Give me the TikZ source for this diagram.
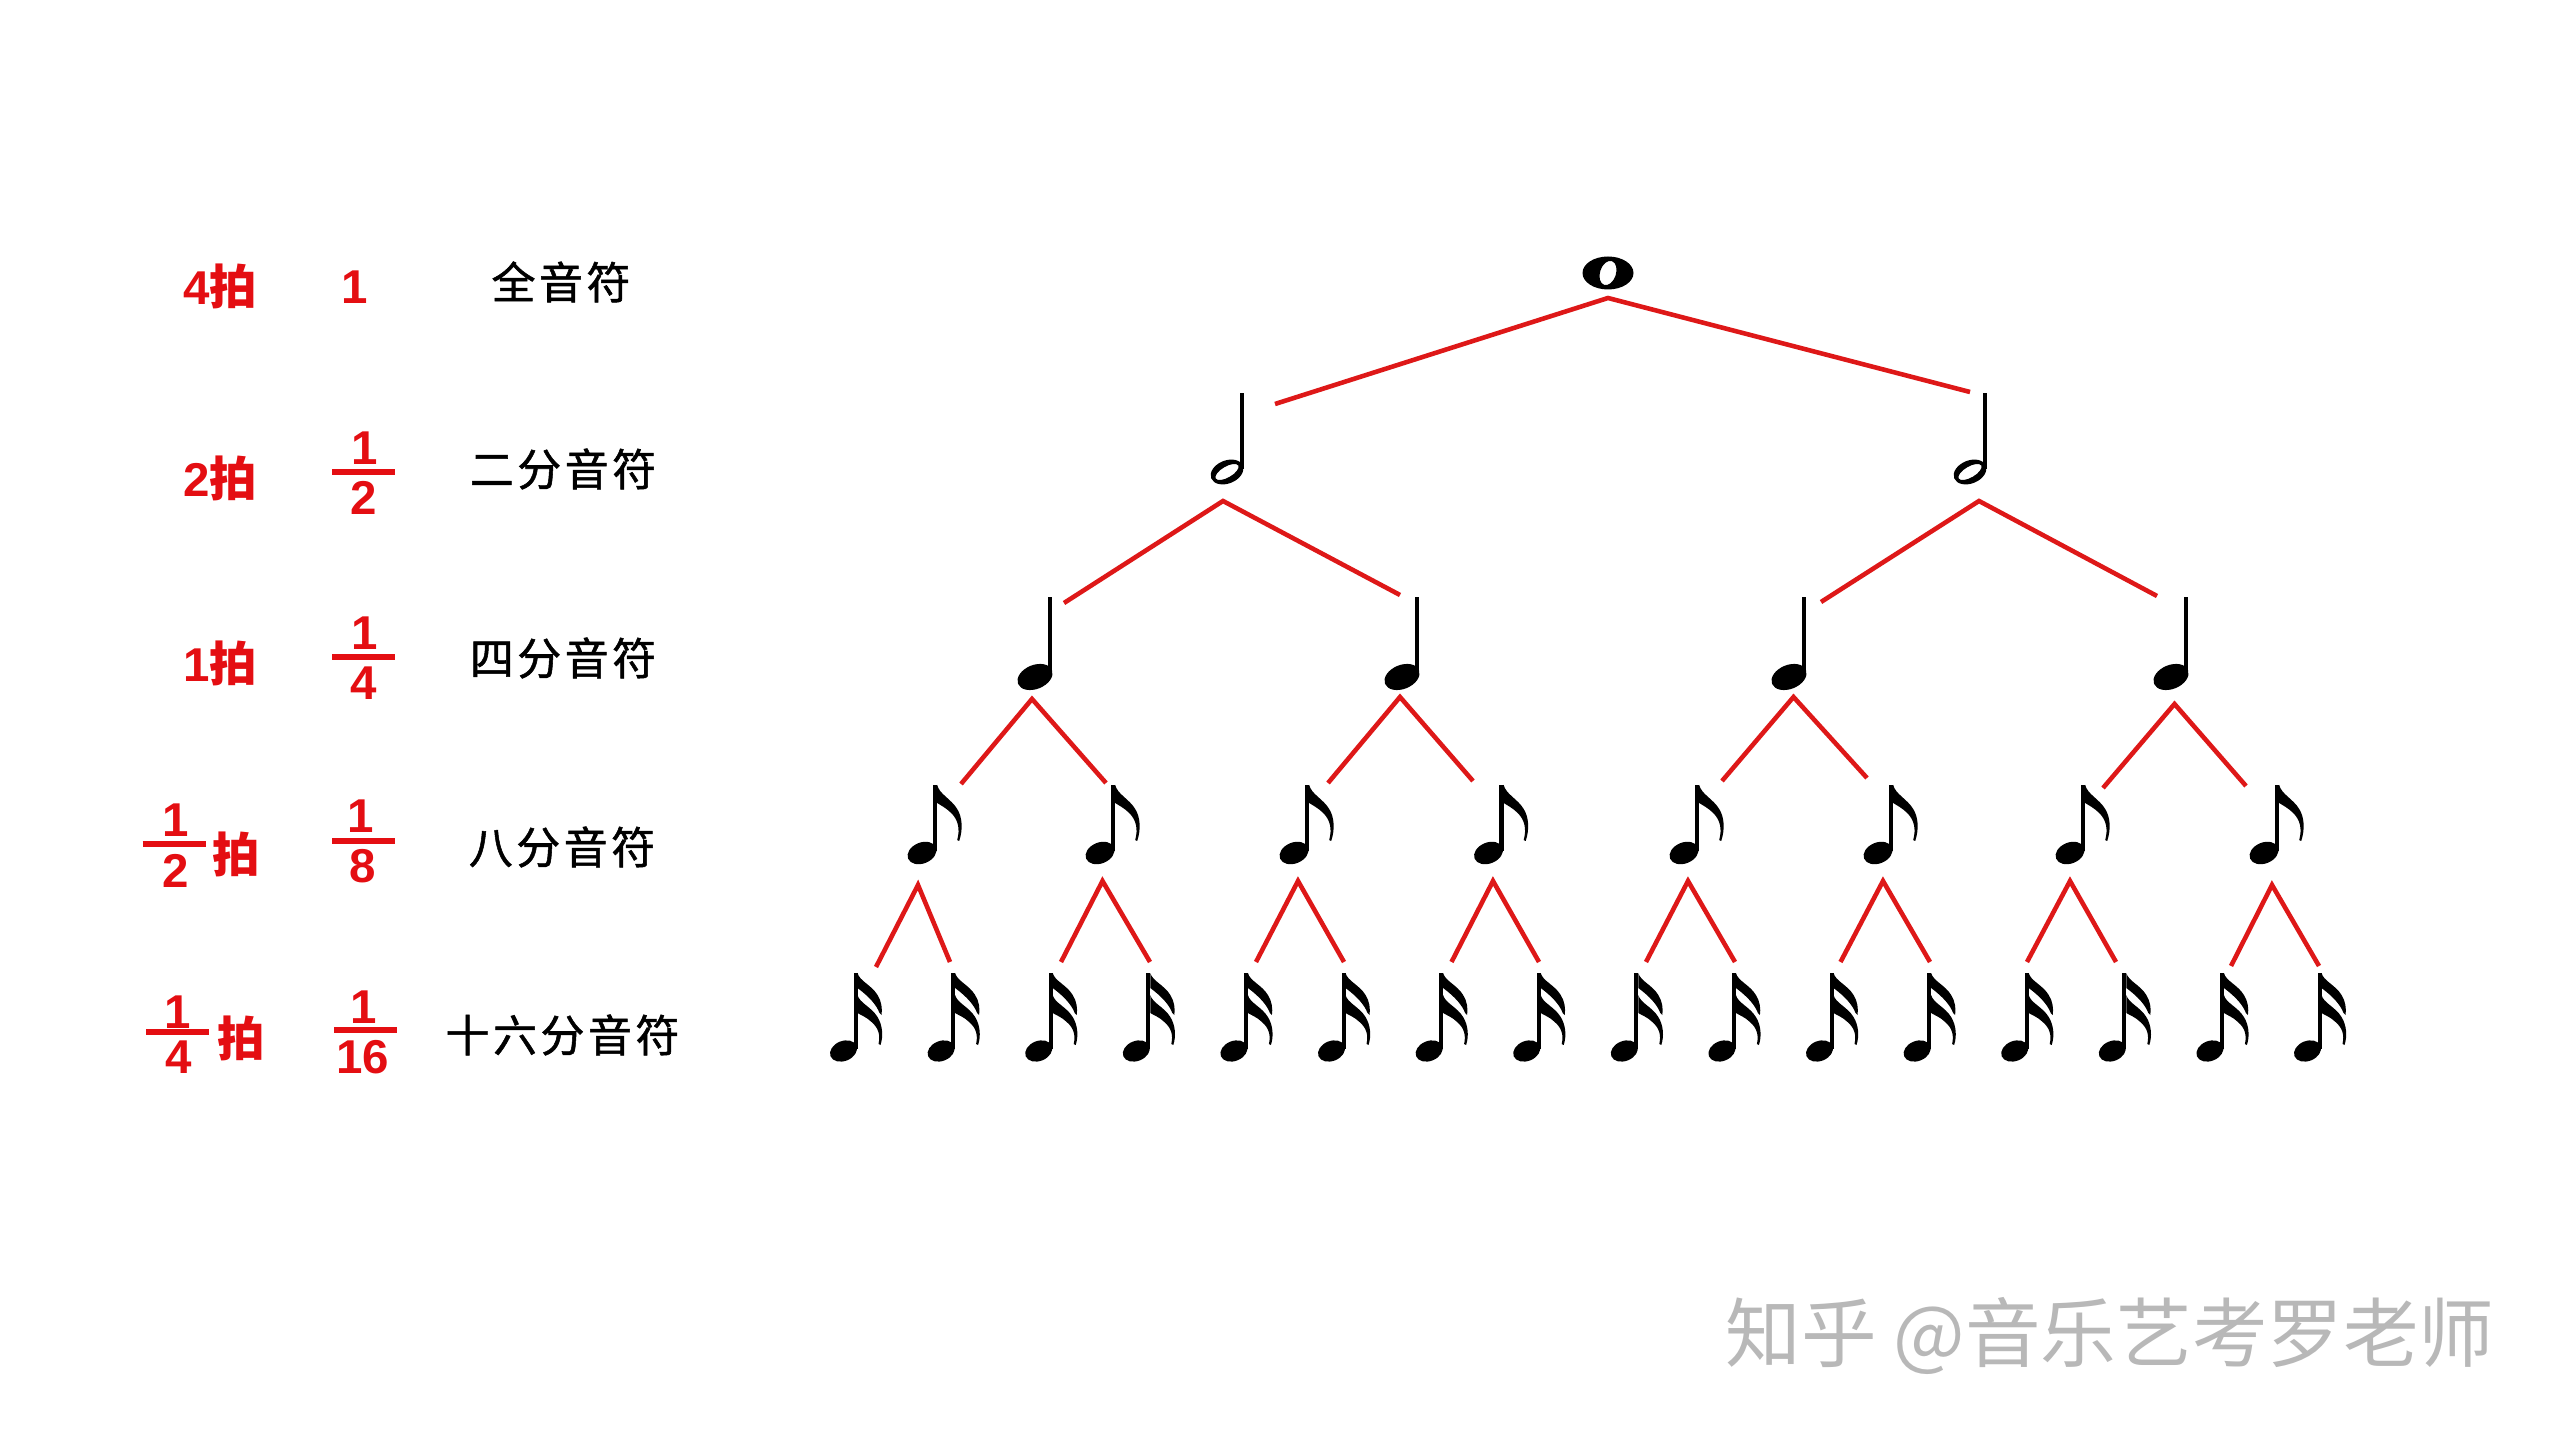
\documentclass[tikz,border=0pt]{standalone}
\usepackage{fontspec}
\setmainfont{Liberation Sans}
\newfontfamily\cjk{Noto Sans CJK SC}
\newfontfamily\cjkls[LetterSpace=8,FakeBold=1.2]{Noto Sans CJK SC}
\usetikzlibrary{calc}
\definecolor{myred}{RGB}{228,14,18}
\definecolor{linered}{RGB}{222,24,24}
\definecolor{wmgray}{RGB}{184,184,184}
\tikzset{
  tie/.style={linered, line width=1.3pt},
  beat/.style={text=myred, inner sep=0pt, font=\fontsize{13.5}{16}\selectfont\bfseries},
  fbar/.style={myred, line width=1.45pt},
  cjklabel/.style={inner sep=0pt, font=\cjkls\fontsize{12.5}{15}\selectfont},
  wm/.style={inner sep=0pt, text=wmgray, font=\cjk\fontsize{21.5}{24}\selectfont},
  wholenote/.pic={\fill[even odd rule] (0,0) ellipse [x radius=25.5, y radius=16.5]
      (0,0) ellipse [x radius=8, y radius=12.5, rotate=-18];},
  halfnote/.pic={\fill[even odd rule] (0,0) ellipse [x radius=17, y radius=11.5, rotate=22]
      (0,0) ellipse [x radius=13, y radius=5.5, rotate=30];
      \fill (12.8,-79) rectangle (17.3,-3);},
  quarternote/.pic={\fill (0,0) ellipse [x radius=18.3, y radius=12, rotate=22];
      \fill (12.6,-80) rectangle (17.4,-2);},
  eighthnote/.pic={\fill (0,0) ellipse [x radius=15, y radius=10.5, rotate=22];
      \fill (10.8,-68) rectangle (15.2,-2);
      \fill[shift={(15.2,-68)}] (0,0) .. controls (2,9) and (14,14) .. (20,24)
        .. controls (25,32) and (26,44) .. (22,56) -- (20,55)
        .. controls (23,44) and (21,35) .. (14,28)
        .. controls (9,23) and (3,20) .. (0,18) -- cycle;},
  sixteenthnote/.pic={\fill (0,0) ellipse [x radius=14, y radius=10, rotate=22];
      \fill (10,-78) rectangle (14,-2);
      \fill[shift={(14,-78)}] (0,0) .. controls (2,8) and (14,12) .. (20,22)
        .. controls (24,28) and (25,36) .. (24,42) -- (22,40)
        .. controls (19,32) and (12,24) .. (0,15) -- cycle;
      \fill[shift={(14,-78)}] (0,22) .. controls (2,30) and (14,34) .. (20,44)
        .. controls (25,52) and (26,63) .. (23,72) -- (21,71)
        .. controls (23,62) and (21,55) .. (14,49)
        .. controls (9,44) and (3,42) .. (0,40) -- cycle;}
}
\begin{document}
\begin{tikzpicture}[x=0.01cm, y=-0.01cm]
\fill[white] (0,0) rectangle (2560,1440);
\useasboundingbox (0,0) rectangle (2560,1440);

% ---------- left labels ----------
\node[beat, anchor=base east] (b1) at (258,305) {4\cjk 拍};
\node[beat, anchor=base] (v1) at (355,304) {1};
\node[cjklabel] (n1) at (561,282) {全音符};

\node[beat, anchor=base east] (b2) at (258,497) {2\cjk 拍};
\node[beat, anchor=base] (v2n) at (364.5,465) {1};
\draw[fbar] (332,472) -- (395,472);
\node[beat, anchor=base] (v2d) at (364,515) {2};
\node[cjklabel] (n2) at (563,469) {二分音符};

\node[beat, anchor=base east] (b3) at (258,682) {1\cjk 拍};
\node[beat, anchor=base] (v3n) at (364.5,650) {1};
\draw[fbar] (332,657) -- (395,657);
\node[beat, anchor=base] (v3d) at (364,700) {4};
\node[cjklabel] (n3) at (563,658) {四分音符};

\node[beat, anchor=base] (b4n) at (175.5,837) {1};
\draw[fbar] (142.5,844) -- (205.7,844);
\node[beat, anchor=base] (b4d) at (176,887) {2};
\node[beat, anchor=base west] (b4p) at (212,873) {\cjk 拍};
\node[beat, anchor=base] (v4n) at (360.5,833) {1};
\draw[fbar] (332,841) -- (395,841);
\node[beat, anchor=base] (v4d) at (363,883) {8};
\node[cjklabel] (n4) at (562,847) {八分音符};

\node[beat, anchor=base] (b5n) at (177.5,1028) {1};
\draw[fbar] (146,1032) -- (209,1032);
\node[beat, anchor=base] (b5d) at (178.5,1073) {4};
\node[beat, anchor=base west] (b5p) at (217,1056) {\cjk 拍};
\node[beat, anchor=base] (v5n) at (363.5,1023) {1};
\draw[fbar] (334,1030) -- (397,1030);
\node[beat, anchor=base] (v5d) at (363,1073) {16};
\node[cjklabel] (n5) at (562.5,1035) {十六分音符};

% ---------- notes ----------
\coordinate (w) at (1608,273);
\coordinate (h1) at (1227,472);
\coordinate (h2) at (1970,472);
\coordinate (q1) at (1035,677);
\coordinate (q2) at (1402,677);
\coordinate (q3) at (1789,677);
\coordinate (q4) at (2171,677);
\coordinate (e1) at (922,853);
\coordinate (e2) at (1100,853);
\coordinate (e3) at (1294,853);
\coordinate (e4) at (1488.5,853);
\coordinate (e5) at (1684,853);
\coordinate (e6) at (1878,853);
\coordinate (e7) at (2070,853);
\coordinate (e8) at (2264,853);
\foreach \k in {1,...,16} {\coordinate (s\k) at ({843.5+97.6*(\k-1)},1051);}

\pic at (w) {wholenote};
\foreach \n in {h1,h2} {\pic at (\n) {halfnote};}
\foreach \n in {q1,q2,q3,q4} {\pic at (\n) {quarternote};}
\foreach \n in {e1,e2,e3,e4,e5,e6,e7,e8} {\pic at (\n) {eighthnote};}
\foreach \k in {1,...,16} {\pic at (s\k) {sixteenthnote};}

% ---------- red connectors ----------
\draw[tie] ($(h1)+(48,-68)$) -- ($(w)+(0,25)$) -- ($(h2)+(0,-80)$);
\draw[tie] ($(q1)+(29,-74)$) -- ($(h1)+(-4,29)$) -- ($(q2)+(-2,-82)$);
\draw[tie] ($(q3)+(32,-75)$) -- ($(h2)+(9,29)$) -- ($(q4)+(-14,-81)$);
\draw[tie] ($(e1)+(39,-69)$) -- ($(q1)+(-3,22)$) -- ($(e2)+(6,-70)$);
\draw[tie] ($(e3)+(34,-70)$) -- ($(q2)+(-2,20)$) -- ($(e4)+(-15.5,-72)$);
\draw[tie] ($(e5)+(38,-72)$) -- ($(q3)+(4.5,20)$) -- ($(e6)+(-11,-75)$);
\draw[tie] ($(e7)+(33,-65)$) -- ($(q4)+(3.5,27)$) -- ($(e8)+(-18,-67)$);
\draw[tie] ($(s1)+(32.5,-84)$) -- ($(e1)+(-4,32)$) -- ($(s2)+(8.9,-89)$);
\draw[tie] ($(s3)+(22.3,-89)$) -- ($(e2)+(2.5,28)$) -- ($(s4)+(13.7,-89)$);
\draw[tie] ($(s5)+(22.1,-89)$) -- ($(e3)+(4,28)$) -- ($(s6)+(12.5,-89)$);
\draw[tie] ($(s7)+(22.4,-89)$) -- ($(e4)+(4.5,28)$) -- ($(s8)+(12.3,-89)$);
\draw[tie] ($(s9)+(21.7,-89)$) -- ($(e5)+(4,28)$) -- ($(s10)+(13.1,-89)$);
\draw[tie] ($(s11)+(21,-89)$) -- ($(e6)+(5,28)$) -- ($(s12)+(12.9,-89)$);
\draw[tie] ($(s13)+(12.3,-89)$) -- ($(e7)+(0,28)$) -- ($(s14)+(3.7,-89)$);
\draw[tie] ($(s15)+(21.1,-85)$) -- ($(e8)+(8,32)$) -- ($(s16)+(11.5,-85)$);

% ---------- watermark ----------
\node[wm] (mark) at (2110,1336) {知乎 @音乐艺考罗老师};
\end{tikzpicture}
\end{document}
